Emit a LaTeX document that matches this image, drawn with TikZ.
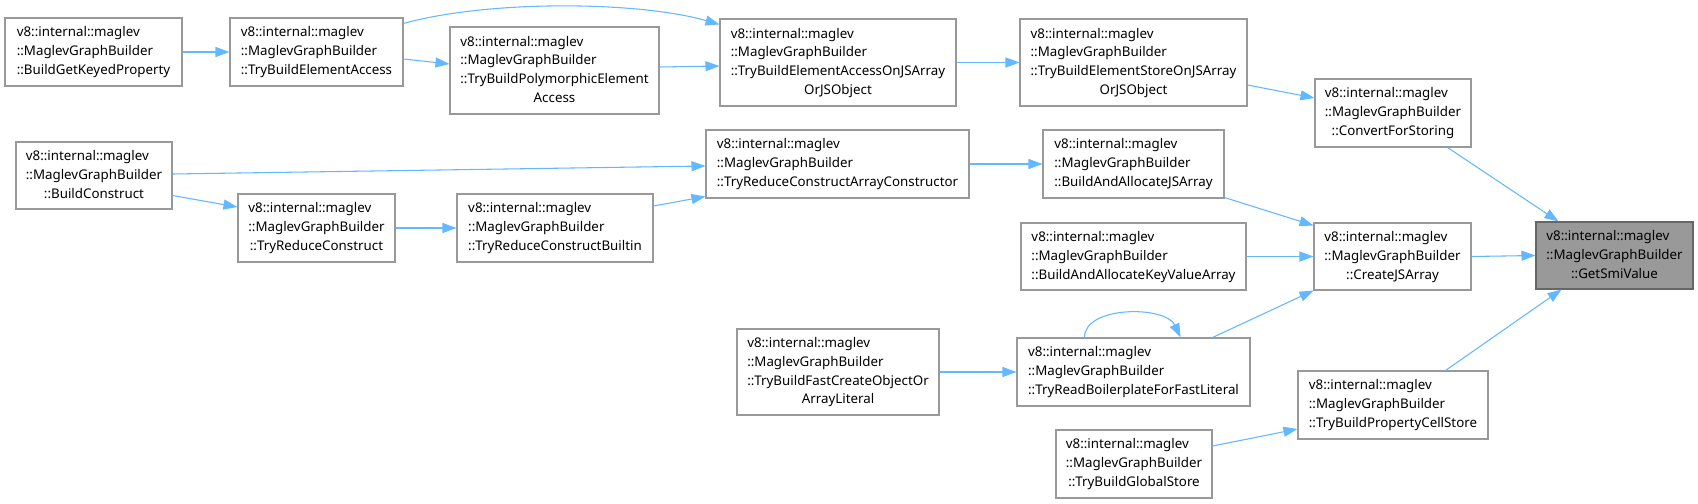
\documentclass[tikz,border=0pt]{standalone}
\usepackage{fontspec}
\setmainfont{Noto Sans}
\usetikzlibrary{arrows.meta,calc}
\definecolor{edgec}{HTML}{63B8FF}
\definecolor{boxc}{HTML}{999999}
\definecolor{hlfill}{HTML}{999999}
\definecolor{hlbord}{HTML}{666666}
\newcommand\lst[1]{\multicolumn{1}{@{}c@{}}{#1}}
\newcommand\bx[7][box]{\node[#1, minimum width={(#5-#3)*0.75pt}, minimum height={(#6-#4)*0.75pt}] (#2) at ({(#3+#5)/2},{(#4+#6)/2}) {\begin{tabular}{@{}l@{}}#7\end{tabular}};}
\tikzset{
  box/.style={draw=boxc, line width=0.8pt, fill=white, inner sep=0pt, font=\fontsize{10pt}{14.1pt}\selectfont},
  hlbox/.style={box, draw=hlbord, fill=hlfill},
  e/.style={draw=edgec, line width=0.8pt, -{Triangle[length=10.5pt,width=7.5pt]}}
}
\begin{document}
\begin{tikzpicture}[x=0.75pt,y=-0.75pt]
\fill[white] (0,0) rectangle (1698,503);
\useasboundingbox (0,0) rectangle (1698,503);
\def\A{v8::internal::maglev\\::MaglevGraphBuilder\\}
\bx{b1}{5}{18}{182}{86}{\A\lst{::BuildGetKeyedProperty}}
\bx{b2}{230}{18}{403}{86}{\A\lst{::TryBuildElementAccess}}
\bx{b3}{450}{27}{659}{114}{\A::TryBuildPolymorphicElement\\\lst{Access}}
\bx{b4}{720}{19}{956}{106}{\A::TryBuildElementAccessOnJSArray\\\lst{OrJSObject}}
\bx{b5}{1020}{19}{1247}{106}{\A::TryBuildElementStoreOnJSArray\\\lst{OrJSObject}}
\bx{b6}{1315}{79}{1471}{147}{\A\lst{::ConvertForStoring}}
\bx[hlbox]{b7}{1536}{222}{1693}{289}{\A\lst{::GetSmiValue}}
\bx{b8}{16}{142}{172}{209}{\A\lst{::BuildConstruct}}
\bx{b9}{238}{194}{395}{262}{\A\lst{::TryReduceConstruct}}
\bx{b10}{457}{194}{653}{262}{\A\lst{::TryReduceConstructBuiltin}}
\bx{b11}{706}{130}{969}{198}{\A\lst{::TryReduceConstructArrayConstructor}}
\bx{b12}{1043}{130}{1224}{198}{\A\lst{::BuildAndAllocateJSArray}}
\bx{b13}{1021}{223}{1246}{290}{\A\lst{::BuildAndAllocateKeyValueArray}}
\bx{b14}{1314}{223}{1471}{290}{\A\lst{::CreateJSArray}}
\bx{b15}{737}{329}{939}{415}{\A::TryBuildFastCreateObjectOr\\\lst{ArrayLiteral}}
\bx{b16}{1017}{338}{1250}{406}{\A\lst{::TryReadBoilerplateForFastLiteral}}
\bx{b17}{1298}{371}{1488}{439}{\A\lst{::TryBuildPropertyCellStore}}
\bx{b18}{1056}{430}{1212}{498}{\A\lst{::TryBuildGlobalStore}}
% edges
\draw[e] (b1.east) -- (b2.west);
\draw[e] ($(b2.east)+(0,7)$) -- ($(b3.west)+(0,-6.5)$);
\draw[e] ($(b2.north east)+(0,6)$) .. controls +(87,-24) and +(-80,-23) .. ($(b4.north west)+(0,6)$);
\draw[e] ($(b3.east)+(0,-3.5)$) -- ($(b4.west)+(0,3.5)$);
\draw[e] (b4.east) -- (b5.west);
\draw[e] ($(b5.east)+(0,22.5)$) -- ($(b6.west)+(0,-15)$);
\draw[e] ($(b6.south east)+(-24,0)$) -- ($(b7.north west)+(23,0)$);
\draw[e] ($(b8.east)+(0,-1.5)$) -- ($(b11.west)+(0,2)$);
\draw[e] ($(b8.south east)+(0,-14)$) -- ($(b9.west)+(0,-21)$);
\draw[e] (b9.east) -- (b10.west);
\draw[e] ($(b10.east)+(0,-22)$) -- ($(b11.south west)+(0,-2)$);
\draw[e] (b11.east) -- (b12.west);
\draw[e] ($(b12.south east)+(0,-1)$) -- ($(b14.north west)+(0,3)$);
\draw[e] (b13.east) -- (b14.west);
\draw[e] ($(b16.north east)+(-38,0)$) -- (b14.south west);
\draw[e] ($(b16.north west)+(68,0)$) .. controls +(0,-32) and +(-15,-32) .. ($(b16.north east)+(-70,0)$);
\draw[e] (b15.east) -- (b16.west);
\draw[e] (b14.east) -- (b7.west);
\draw[e] ($(b17.north east)+(-43,0)$) -- ($(b7.south west)+(26,0)$);
\draw[e] ($(b18.east)+(0,-18)$) -- ($(b17.west)+(0,24)$);
\end{tikzpicture}
\end{document}
